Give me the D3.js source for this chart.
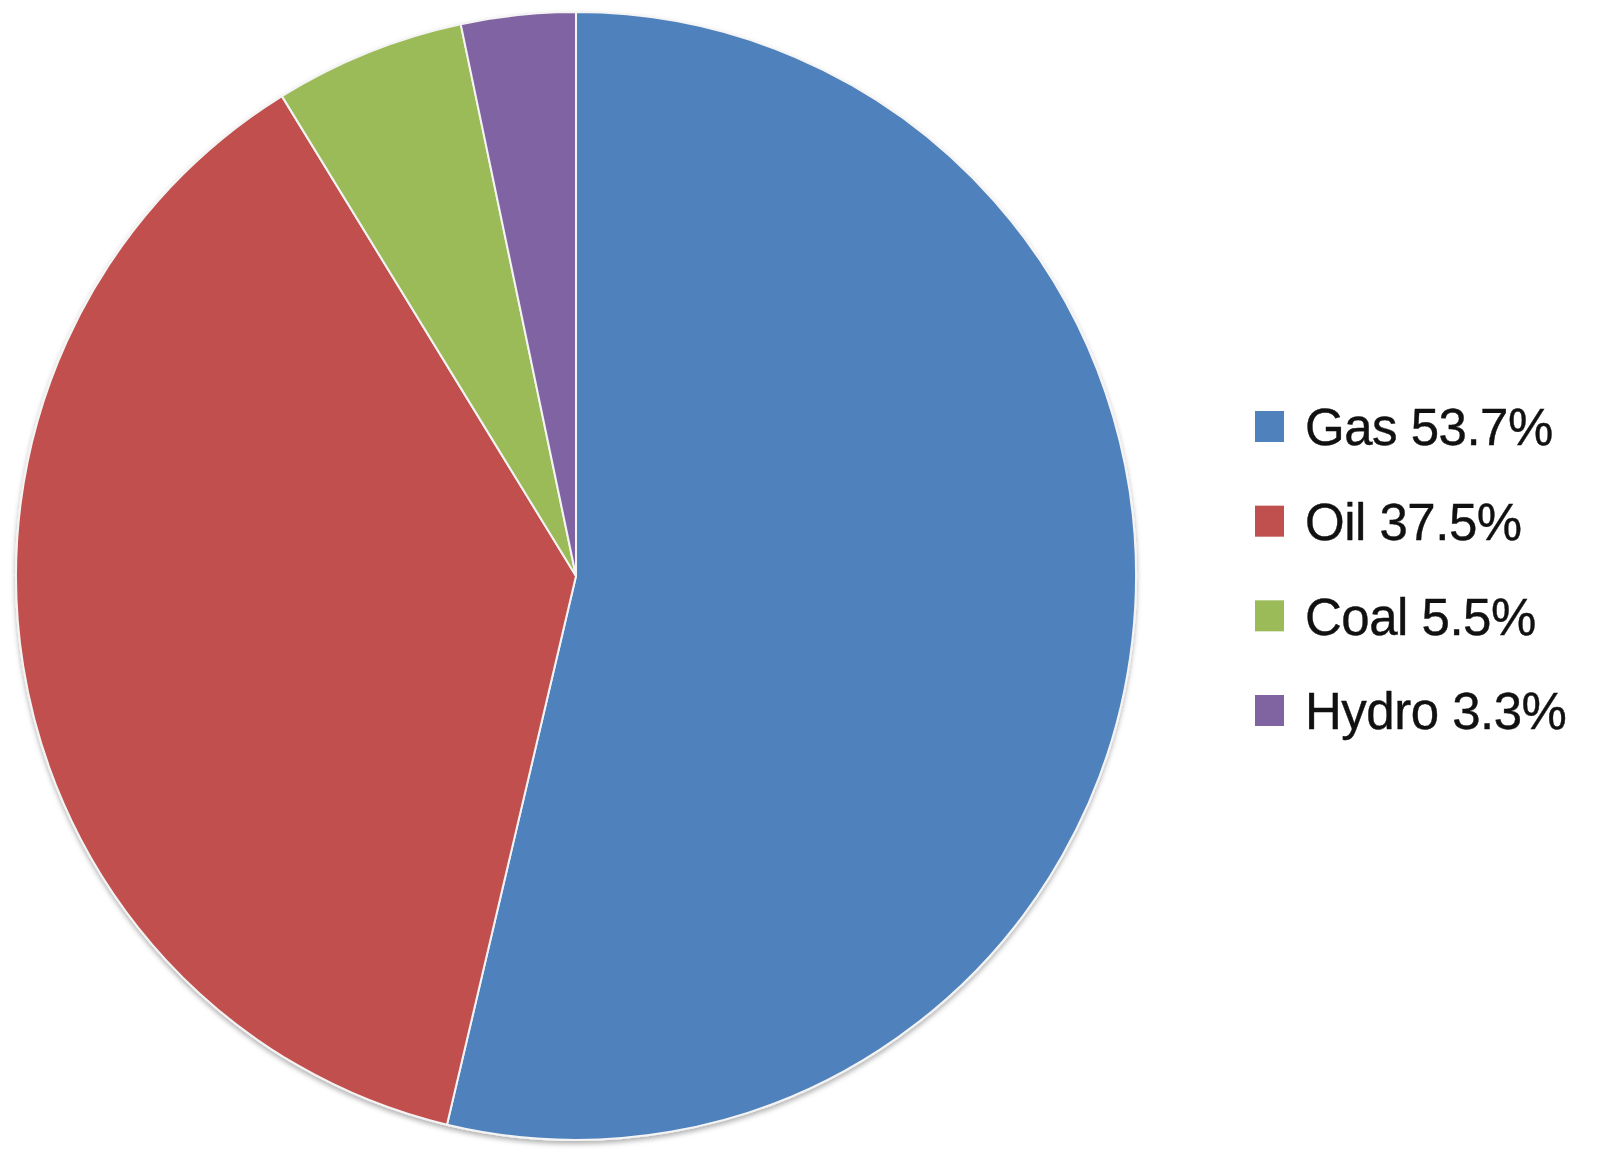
<!DOCTYPE html>
<html><head><meta charset="utf-8">
<script src="https://cdn.jsdelivr.net/npm/d3@7"></script>
<style>html,body{margin:0;padding:0;background:#fff;}svg{display:block;}</style>
</head><body>
<svg id="chart" width="1599" height="1160"></svg>
<script>
const categories = ["Gas", "Oil", "Coal", "Hydro"];
const values = [53.7, 37.5, 5.5, 3.3];
const labels = ["Gas 53.7%", "Oil 37.5%", "Coal 5.5%", "Hydro 3.3%"];
const colors = ["#4F81BD", "#C0504D", "#9BBB59", "#8064A2"];

const svg = d3.select("#chart");
const defs = svg.append("defs");
const f = defs.append("filter").attr("id","sh").attr("x","-10%").attr("y","-10%").attr("width","120%").attr("height","120%");
f.append("feDropShadow").attr("dx",0).attr("dy",3).attr("stdDeviation",2.5).attr("flood-color","#000").attr("flood-opacity",0.3);

const data = categories.map((c,i)=>({cat:c, value:values[i], label:labels[i]}));
const color = d3.scaleOrdinal().domain(categories).range(colors);
const pie = d3.pie().value(d=>d.value).sort(null);
const arc = d3.arc().innerRadius(0).outerRadius(560);

const g = svg.append("g").attr("transform","translate(576,576) scale(1,1.007)");
g.append("g").attr("filter","url(#sh)")
  .selectAll("path").data(pie(data)).join("path")
  .attr("d", arc)
  .attr("fill", d=>color(d.data.cat))
  .attr("stroke", "#f4f4f4")
  .attr("stroke-width", 2)
  .attr("stroke-linejoin","round");

const y = d3.scalePoint().domain(categories).range([427, 711]);
const leg = svg.append("g");
const items = leg.selectAll("g").data(data).join("g")
  .attr("transform", d=>`translate(1255,${y(d.cat)})`);
items.append("rect").attr("x",0).attr("y",-16).attr("width",29).attr("height",31)
  .attr("fill", d=>color(d.cat));
items.append("text").attr("x",50).attr("y",0).attr("dy","0.36em")
  .attr("font-family","'Liberation Sans', Arial, sans-serif")
  .attr("font-size",51)
  .attr("letter-spacing",-0.5)
  .attr("fill","#111")
  .attr("stroke","#111")
  .attr("stroke-width",0.4)
  .text(d=>d.label);
</script>
</body></html>
